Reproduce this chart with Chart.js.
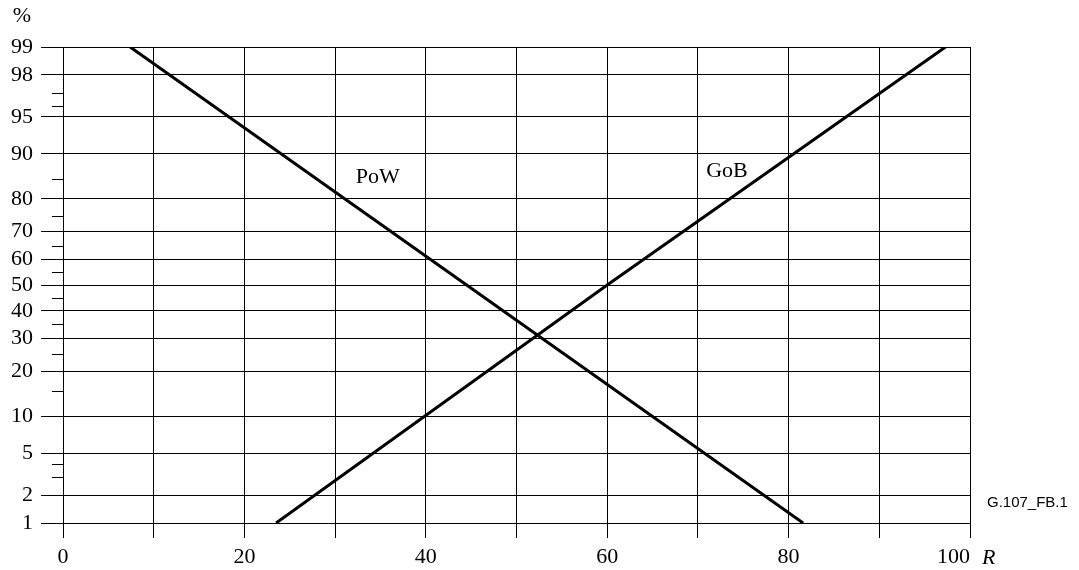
<!DOCTYPE html>
<html>
<head>
<meta charset="utf-8">
<script src="https://cdn.jsdelivr.net/npm/chart.js@4"></script>
<style>
  html, body { margin: 0; padding: 0; background: #fff; }
</style>
</head>
<body>
<canvas id="myChart" width="1079" height="570"></canvas>
<script>
// values: R and percent where each line meets a grid line
var gobR = [23.5, 60, 97.3]
var gobPct = [1, 50, 99]
var powR = [7.4, 44.5, 81.6]
var powPct = [99, 50, 1]

var yTicks = [1, 2, 5, 10, 20, 30, 40, 50, 60, 70, 80, 90, 95, 98, 99]
var yMinorTicks = [3, 4, 15, 25, 35, 45, 55, 65, 75, 85, 96, 97]
var xLabelStep = 20

var curveNames = ['PoW', 'GoB']
var curveNameR = [34.7, 73.2]
var curveNamePct = [85.4, 86.7]

// inverse normal cdf (Acklam), the y axis is a normal probability scale
function probit (pct) {
  var p = pct / 100
  var a = [-39.69683028665376, 220.9460984245205, -275.9285104469687, 138.3577518672690, -30.66479806614716, 2.506628277459239]
  var b = [-54.47609879822406, 161.5858368580409, -155.6989798598866, 66.80131188771972, -13.28068155288572]
  var c = [-0.007784894002430293, -0.3223964580411365, -2.400758277161838, -2.549732539343734, 4.374664141464968, 2.938163982698783]
  var d = [0.007784695709041462, 0.3224671290700398, 2.445134137142996, 3.754408661907416]
  var lo = 0.02425
  var q, r
  if (p < lo) {
    q = Math.sqrt(-2 * Math.log(p))
    return (((((c[0] * q + c[1]) * q + c[2]) * q + c[3]) * q + c[4]) * q + c[5]) / ((((d[0] * q + d[1]) * q + d[2]) * q + d[3]) * q + 1)
  }
  if (p > 1 - lo) {
    q = Math.sqrt(-2 * Math.log(1 - p))
    return -(((((c[0] * q + c[1]) * q + c[2]) * q + c[3]) * q + c[4]) * q + c[5]) / ((((d[0] * q + d[1]) * q + d[2]) * q + d[3]) * q + 1)
  }
  q = p - 0.5
  r = q * q
  return (((((a[0] * r + a[1]) * r + a[2]) * r + a[3]) * r + a[4]) * r + a[5]) * q / (((((b[0] * r + b[1]) * r + b[2]) * r + b[3]) * r + b[4]) * r + 1)
}

function toPoints (rs, ps) {
  return rs.map(function (r, i) { return { x: r, y: probit(ps[i]) } })
}

var serif = '"Liberation Serif", "Times New Roman", serif'

var decor = {
  id: 'decor',
  afterDraw: function (chart) {
    var ctx = chart.ctx
    var x = chart.scales.x
    var y = chart.scales.y
    ctx.save()
    ctx.strokeStyle = '#000'
    ctx.lineWidth = 1
    yMinorTicks.forEach(function (v) {
      var py = Math.round(y.getPixelForValue(probit(v))) + 0.5
      ctx.beginPath()
      ctx.moveTo(x.left - 11, py)
      ctx.lineTo(x.left, py)
      ctx.stroke()
    })
    ctx.fillStyle = '#000'
    ctx.font = '22px ' + serif
    ctx.textBaseline = 'middle'
    ctx.textAlign = 'center'
    curveNames.forEach(function (t, i) {
      ctx.fillText(t, x.getPixelForValue(curveNameR[i]), y.getPixelForValue(probit(curveNamePct[i])))
    })
    ctx.fillText('%', 22, 16)
    ctx.textAlign = 'left'
    ctx.font = 'italic 22px ' + serif
    ctx.fillText('R', x.getPixelForValue(100) + 12, 558)
    ctx.font = '15px "Liberation Sans", Arial, sans-serif'
    ctx.fillText('G.107_FB.1', 987, 503)
    ctx.restore()
  }
}

var ctx = document.getElementById('myChart')
var chart = new Chart(ctx, {
  type: 'line',
  data: {
    datasets: [
      { label: 'GoB', data: toPoints(gobR, gobPct), borderColor: '#000', borderWidth: 3, pointRadius: 0, tension: 0 },
      { label: 'PoW', data: toPoints(powR, powPct), borderColor: '#000', borderWidth: 3, pointRadius: 0, tension: 0 }
    ]
  },
  options: {
    responsive: false,
    animation: false,
    devicePixelRatio: 1,
    layout: { padding: { top: 47, right: 109, left: 0, bottom: 0 } },
    plugins: { legend: { display: false }, tooltip: { enabled: false } },
    scales: {
      x: {
        type: 'linear',
        min: 0,
        max: 100,
        afterFit: function (s) { s.height = 47 },
        ticks: {
          stepSize: 10,
          autoSkip: false,
          maxRotation: 0,
          padding: 6,
          color: '#000',
          font: { family: serif, size: 22 },
          callback: function (v) {
            if (v % xLabelStep) return ''
            return v === 100 ? '100      ' : String(v)
          }
        },
        grid: { color: '#000', lineWidth: 1, tickLength: 15 },
        border: { color: '#000' }
      },
      y: {
        type: 'linear',
        min: probit(yTicks[0]),
        max: probit(yTicks[yTicks.length - 1]),
        afterFit: function (s) { s.width = 63 },
        afterBuildTicks: function (s) {
          s.ticks = yTicks.map(function (v) { return { value: probit(v) } })
        },
        ticks: {
          autoSkip: false,
          padding: 8,
          color: '#000',
          font: { family: serif, size: 22 },
          callback: function (v, i) { return String(yTicks[i]) }
        },
        grid: { color: '#000', lineWidth: 1, tickLength: 22 },
        border: { color: '#000' }
      }
    }
  },
  plugins: [decor]
})
</script>
</body>
</html>
